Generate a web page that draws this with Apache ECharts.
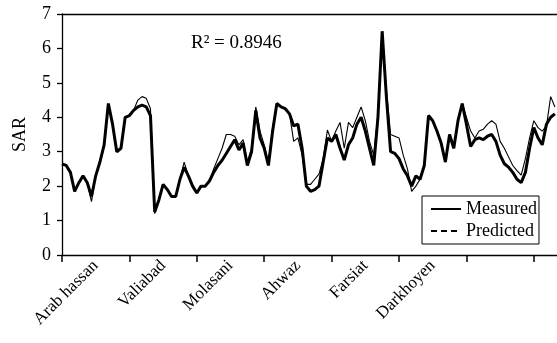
<!DOCTYPE html>
<html>
<head>
<meta charset="utf-8">
<script src="https://cdn.jsdelivr.net/npm/echarts@6/dist/echarts.min.js"></script>
<style>
html,body{margin:0;padding:0;background:#fff;}
#c{width:557px;height:343px;}
</style>
</head>
<body>
<div id="c"></div>
<script>
// station names (labels between ticks)
const stations = ["Arab hassan", "Valiabad", "Molasani", "Ahwaz", "Farsiat", "Darkhoyen"];
const samplesPerStation = 16;
const yTicks = [0, 1, 2, 3, 4, 5, 6, 7];
const r2Text = "R\u00b2 = 0.8946";

// SAR values by sample index
const measured = [
  2.65, 2.6, 2.4, 1.85, 2.1, 2.3, 2.1, 1.7, 2.3, 2.7,
  3.2, 4.4, 3.8, 3.0, 3.1, 4.0, 4.05, 4.2, 4.3, 4.35,
  4.3, 4.05, 1.25, 1.6, 2.05, 1.9, 1.7, 1.7, 2.2, 2.55,
  2.3, 2.0, 1.8, 2.0, 2.0, 2.15, 2.4, 2.6, 2.75, 2.95,
  3.15, 3.35, 3.05, 3.25, 2.6, 3.0, 4.2, 3.4, 3.1, 2.6,
  3.6, 4.4, 4.3, 4.25, 4.1, 3.75, 3.8, 3.1, 2.0, 1.85,
  1.9, 2.0, 2.7, 3.4, 3.3, 3.5, 3.1, 2.76, 3.2, 3.4,
  3.8, 4.0, 3.6, 3.1, 2.6, 4.0, 6.5, 4.6, 3.0, 2.95,
  2.8, 2.5, 2.3, 2.0, 2.3, 2.2, 2.6, 4.05, 3.9, 3.6,
  3.25, 2.7, 3.5, 3.1, 3.9, 4.4, 3.8, 3.15, 3.35, 3.4,
  3.35, 3.45, 3.5, 3.3, 2.9, 2.65, 2.55, 2.4, 2.2, 2.1,
  2.4, 3.1, 3.7, 3.4, 3.2, 3.8, 4.0, 4.1
];
const predicted = [
  2.65, 2.6, 2.4, 1.85, 2.1, 2.3, 2.1, 1.55, 2.3, 2.7,
  3.2, 4.35, 3.8, 3.0, 3.1, 4.0, 4.05, 4.2, 4.5, 4.6,
  4.55, 4.25, 1.2, 1.6, 2.05, 1.9, 1.7, 1.7, 2.2, 2.7,
  2.3, 2.0, 1.8, 2.0, 2.0, 2.15, 2.5, 2.8, 3.1, 3.5,
  3.5, 3.45, 3.2, 3.35, 2.7, 3.1, 4.3, 3.6, 3.2, 2.7,
  3.7, 4.4, 4.3, 4.25, 4.1, 3.3, 3.4, 2.9, 2.05, 2.05,
  2.2, 2.35, 2.8, 3.63, 3.3, 3.6, 3.85, 3.1, 3.85, 3.7,
  4.0, 4.3, 3.9, 3.3, 2.9, 4.1, 6.4, 4.8, 3.5, 3.45,
  3.4, 2.9, 2.5, 1.85, 2.0, 2.2, 2.6, 4.05, 3.9, 3.6,
  3.25, 2.7, 3.5, 3.1, 3.9, 4.4, 4.0, 3.6, 3.4, 3.6,
  3.65, 3.8, 3.9, 3.8, 3.3, 3.1, 2.85, 2.6, 2.45, 2.32,
  2.8, 3.4, 3.9, 3.7, 3.6, 3.75, 4.6, 4.3
];

const serif = "'Liberation Serif', 'DejaVu Serif', serif";
const xMax = 117.5;
const tickVals = [];
for (let k = 0; k <= 7; k++) tickVals.push(k * samplesPerStation);
const labelVals = stations.map((s, k) => k * samplesPerStation + samplesPerStation / 2);

const chart = echarts.init(document.getElementById('c'), null, {renderer: 'canvas'});
chart.setOption({
  animation: false,
  backgroundColor: '#fff',
  grid: {left: 62, top: 14, right: 0, bottom: 88},
  xAxis: [{
    type: 'value', min: 0, max: xMax, position: 'bottom',
    axisLine: {show: true, lineStyle: {color: '#000', width: 1.3}},
    axisTick: {show: true, customValues: tickVals, length: 7, lineStyle: {color: '#000', width: 1.5}},
    axisLabel: {
      customValues: labelVals, rotate: 45, margin: 8,
      fontFamily: serif, fontSize: 17, color: '#000',
      formatter: function (v) {
        const k = Math.round((v - samplesPerStation / 2) / samplesPerStation);
        return stations[k] || '';
      }
    },
    splitLine: {show: false}
  }, {
    type: 'value', min: 0, max: xMax, position: 'top',
    axisLine: {show: true, lineStyle: {color: '#000', width: 1.3}},
    axisTick: {show: false}, axisLabel: {show: false}, splitLine: {show: false}
  }],
  yAxis: {
    type: 'value', min: yTicks[0], max: yTicks[yTicks.length - 1], interval: 1,
    name: 'SAR', nameLocation: 'middle', nameGap: 33, nameRotate: 90,
    nameTextStyle: {fontFamily: serif, fontSize: 18, color: '#000'},
    axisLine: {show: true, lineStyle: {color: '#000', width: 1.3}},
    axisTick: {show: true, inside: false, length: 5, lineStyle: {color: '#000', width: 1.3}},
    axisLabel: {fontFamily: serif, fontSize: 18, color: '#000', margin: 11},
    splitLine: {show: false}
  },
  legend: {
    orient: 'vertical', left: 422, top: 196,
    backgroundColor: '#fff', borderColor: '#000', borderWidth: 1,
    padding: [4, 2, 4, 8], itemGap: 4, itemWidth: 30, itemHeight: 16,
    itemStyle: {opacity: 0},
    textStyle: {fontFamily: serif, fontSize: 18, color: '#000'},
    data: [
      {name: 'Measured', lineStyle: {width: 2}},
      {name: 'Predicted', lineStyle: {type: [6, 4], width: 2}}
    ]
  },
  graphic: [{
    type: 'text', left: 191, top: 34,
    style: {text: r2Text, fontFamily: serif, fontSize: 19, fill: '#000'}
  }],
  series: [{
    name: 'Predicted', type: 'line', symbol: 'none',
    data: predicted.map((v, i) => [i, v]),
    lineStyle: {color: '#000', width: 1.1}, itemStyle: {color: '#000'}, z: 3
  }, {
    name: 'Measured', type: 'line', symbol: 'none',
    data: measured.map((v, i) => [i, v]),
    lineStyle: {color: '#000', width: 3}, itemStyle: {color: '#000'}, z: 2
  }]
});
</script>
</body>
</html>
